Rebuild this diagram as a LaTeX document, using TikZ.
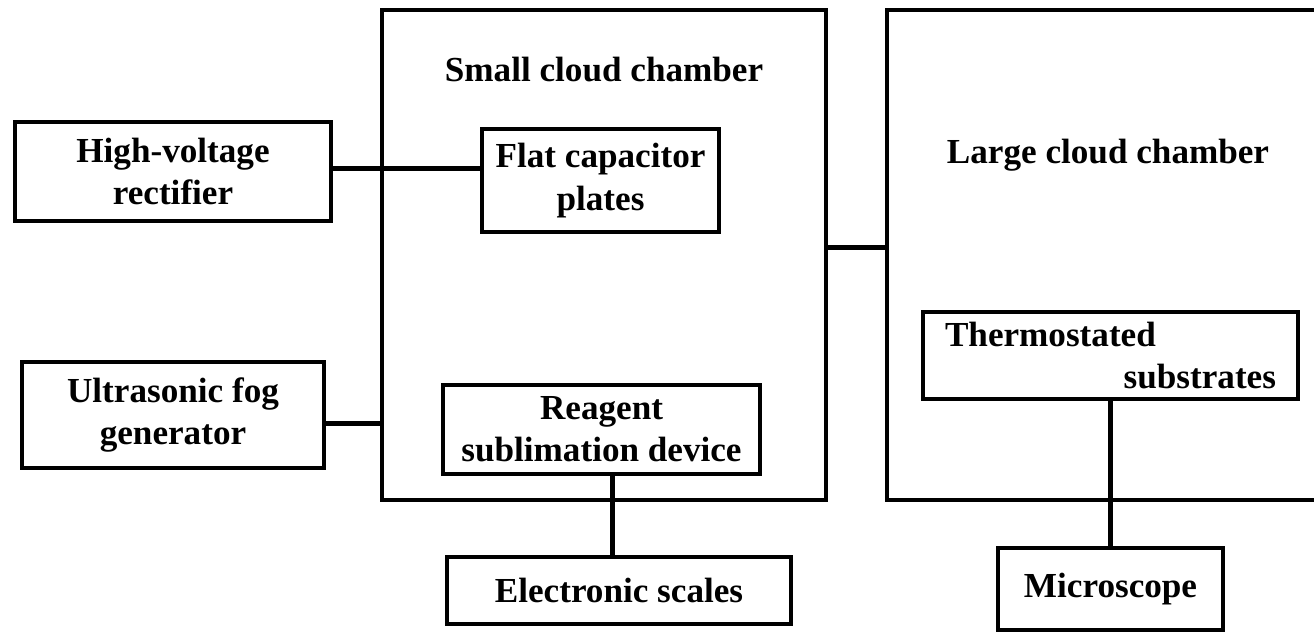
\documentclass[tikz,border=0pt]{standalone}
\usepackage{fontspec}
\setmainfont{Liberation Serif}

\begin{document}
\begin{tikzpicture}[line width=2.8pt, font=\bfseries\fontsize{20}{24}\selectfont,
block/.style={rectangle, draw, align=center, inner sep=2pt},
chamber/.style={rectangle, draw, minimum height=98mm}]
 \useasboundingbox (0,0) rectangle (26.28,-12.72);
 \node[chamber, minimum width=88.8mm] (small) at (12.08,-5.10) {};
 \node[chamber, minimum width=90.6mm] (large) at (22.27,-5.10) {};
 \node (smalltitle) at (12.08,-1.40) {Small cloud chamber};
 \node (largetitle) at (22.16,-3.10) {Large cloud chamber};

 \node[block, minimum width=63.2mm, minimum height=19.8mm] (rectifier) at (3.46,-3.43) {High-voltage\\rectifier};
 \node[block, below of=rectifier, node distance=48.7mm, minimum width=60.4mm, minimum height=21.2mm] (fog) {Ultrasonic fog\\generator};
 \node[block, minimum width=47.4mm, minimum height=20.6mm] (capacitor) at (12.01,-3.61) {Flat capacitor\\plates};
 \node[block, minimum width=63.4mm, minimum height=17.8mm] (reagent) at (12.03,-8.59) {Reagent\\sublimation device};
 \node[block, minimum width=68.8mm, minimum height=13.4mm] (scales) at (12.38,-11.81) {Electronic scales};
 \node[block, text width=66.2mm, inner xsep=4.4mm, align=left, minimum height=17.4mm] (thermo) at (22.21,-7.11) {Thermostated\\\hspace*{\fill}substrates};
 \node[block, below of=thermo, node distance=46.7mm, minimum width=45mm, minimum height=16.4mm] (micro) {Microscope};

 \draw (rectifier.1.6) -- (rectifier.1.6 -| capacitor.west);
 \draw (fog.-3.7) -- (fog.-3.7 -| small.west);
 \draw (small.2) -- (small.2 -| large.west);
 \draw (reagent.-77) -- (reagent.-77 |- scales.north);
 \draw (thermo.south) -- (thermo.south |- micro.north);
\end{tikzpicture}
\end{document}
